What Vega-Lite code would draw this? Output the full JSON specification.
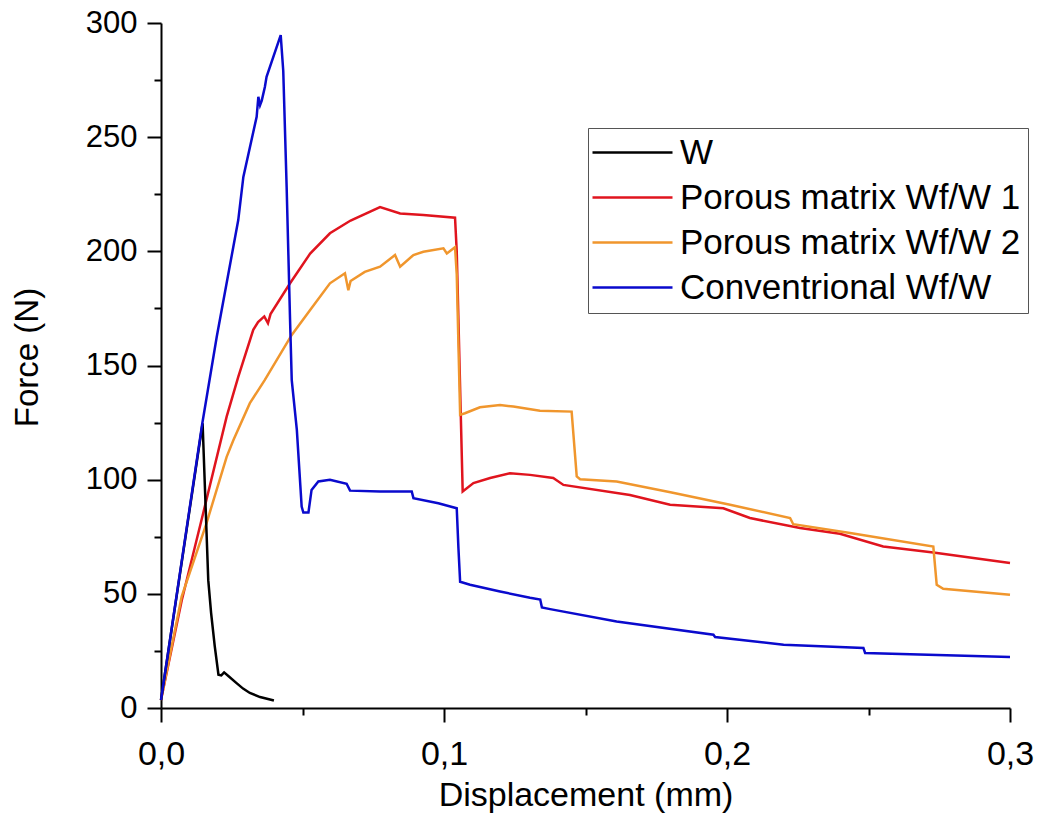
{
  "$schema": "https://vega.github.io/schema/vega-lite/v6.json",
  "width": 849,
  "height": 685,
  "autosize": {"type": "none"},
  "padding": {"left": 161, "top": 23, "right": 30, "bottom": 118},
  "background": "white",
  "config": {
    "view": {"stroke": null},
    "font": "Liberation Sans",
    "axis": {"grid": false, "domainColor": "black", "domainWidth": 2, "tickColor": "black", "tickWidth": 2, "labelColor": "black", "titleColor": "black", "labelFont": "Liberation Sans", "titleFont": "Liberation Sans", "titleFontWeight": "normal", "labelOverlap": false, "labelFlush": false}
  },
  "datasets": {
    "curves": [
      {"s": "W", "d": 0, "f": 3.5},
      {"s": "W", "d": 0.0147, "f": 124.7},
      {"s": "W", "d": 0.0167, "f": 56},
      {"s": "W", "d": 0.0177, "f": 41.7},
      {"s": "W", "d": 0.019, "f": 27},
      {"s": "W", "d": 0.0203, "f": 14.6},
      {"s": "W", "d": 0.0213, "f": 14.3},
      {"s": "W", "d": 0.0223, "f": 15.6},
      {"s": "W", "d": 0.024, "f": 13.8},
      {"s": "W", "d": 0.0267, "f": 10.9},
      {"s": "W", "d": 0.029, "f": 8.5},
      {"s": "W", "d": 0.0314, "f": 6.6},
      {"s": "W", "d": 0.035, "f": 4.8},
      {"s": "W", "d": 0.0399, "f": 3.3},

      {"s": "Porous matrix Wf/W 1", "d": 0, "f": 3.5},
      {"s": "Porous matrix Wf/W 1", "d": 0.0073, "f": 47},
      {"s": "Porous matrix Wf/W 1", "d": 0.0149, "f": 85.3},
      {"s": "Porous matrix Wf/W 1", "d": 0.0232, "f": 127.6},
      {"s": "Porous matrix Wf/W 1", "d": 0.0273, "f": 145},
      {"s": "Porous matrix Wf/W 1", "d": 0.0326, "f": 165.6},
      {"s": "Porous matrix Wf/W 1", "d": 0.0343, "f": 169},
      {"s": "Porous matrix Wf/W 1", "d": 0.0365, "f": 171.5},
      {"s": "Porous matrix Wf/W 1", "d": 0.0378, "f": 168.5},
      {"s": "Porous matrix Wf/W 1", "d": 0.0387, "f": 172.5},
      {"s": "Porous matrix Wf/W 1", "d": 0.0456, "f": 186},
      {"s": "Porous matrix Wf/W 1", "d": 0.0527, "f": 199},
      {"s": "Porous matrix Wf/W 1", "d": 0.0597, "f": 207.9},
      {"s": "Porous matrix Wf/W 1", "d": 0.067, "f": 213.5},
      {"s": "Porous matrix Wf/W 1", "d": 0.0774, "f": 219.4},
      {"s": "Porous matrix Wf/W 1", "d": 0.0845, "f": 216.6},
      {"s": "Porous matrix Wf/W 1", "d": 0.0927, "f": 215.9},
      {"s": "Porous matrix Wf/W 1", "d": 0.1039, "f": 214.7},
      {"s": "Porous matrix Wf/W 1", "d": 0.1045, "f": 200},
      {"s": "Porous matrix Wf/W 1", "d": 0.1066, "f": 94.8},
      {"s": "Porous matrix Wf/W 1", "d": 0.1104, "f": 98.5},
      {"s": "Porous matrix Wf/W 1", "d": 0.1163, "f": 100.7},
      {"s": "Porous matrix Wf/W 1", "d": 0.1233, "f": 102.8},
      {"s": "Porous matrix Wf/W 1", "d": 0.1304, "f": 102.1},
      {"s": "Porous matrix Wf/W 1", "d": 0.1386, "f": 100.7},
      {"s": "Porous matrix Wf/W 1", "d": 0.1422, "f": 97.7},
      {"s": "Porous matrix Wf/W 1", "d": 0.1657, "f": 93.3},
      {"s": "Porous matrix Wf/W 1", "d": 0.1799, "f": 89},
      {"s": "Porous matrix Wf/W 1", "d": 0.1987, "f": 87.5},
      {"s": "Porous matrix Wf/W 1", "d": 0.2081, "f": 83.2},
      {"s": "Porous matrix Wf/W 1", "d": 0.2258, "f": 78.8},
      {"s": "Porous matrix Wf/W 1", "d": 0.2399, "f": 76.3},
      {"s": "Porous matrix Wf/W 1", "d": 0.2552, "f": 70.7},
      {"s": "Porous matrix Wf/W 1", "d": 0.2729, "f": 68.1},
      {"s": "Porous matrix Wf/W 1", "d": 0.3, "f": 63.5},

      {"s": "Porous matrix Wf/W 2", "d": 0, "f": 3.5},
      {"s": "Porous matrix Wf/W 2", "d": 0.0073, "f": 48.8},
      {"s": "Porous matrix Wf/W 2", "d": 0.0161, "f": 81},
      {"s": "Porous matrix Wf/W 2", "d": 0.0232, "f": 110},
      {"s": "Porous matrix Wf/W 2", "d": 0.0256, "f": 117.4},
      {"s": "Porous matrix Wf/W 2", "d": 0.0314, "f": 133.5},
      {"s": "Porous matrix Wf/W 2", "d": 0.0367, "f": 143.7},
      {"s": "Porous matrix Wf/W 2", "d": 0.0462, "f": 163.4},
      {"s": "Porous matrix Wf/W 2", "d": 0.0527, "f": 174.3},
      {"s": "Porous matrix Wf/W 2", "d": 0.0597, "f": 186},
      {"s": "Porous matrix Wf/W 2", "d": 0.065, "f": 190.4},
      {"s": "Porous matrix Wf/W 2", "d": 0.0662, "f": 183},
      {"s": "Porous matrix Wf/W 2", "d": 0.067, "f": 187},
      {"s": "Porous matrix Wf/W 2", "d": 0.072, "f": 191},
      {"s": "Porous matrix Wf/W 2", "d": 0.0774, "f": 193.3},
      {"s": "Porous matrix Wf/W 2", "d": 0.0827, "f": 198.4},
      {"s": "Porous matrix Wf/W 2", "d": 0.0845, "f": 193.3},
      {"s": "Porous matrix Wf/W 2", "d": 0.0892, "f": 198.4},
      {"s": "Porous matrix Wf/W 2", "d": 0.0927, "f": 199.8},
      {"s": "Porous matrix Wf/W 2", "d": 0.0998, "f": 201.3},
      {"s": "Porous matrix Wf/W 2", "d": 0.101, "f": 199.1},
      {"s": "Porous matrix Wf/W 2", "d": 0.1039, "f": 201.8},
      {"s": "Porous matrix Wf/W 2", "d": 0.1045, "f": 190},
      {"s": "Porous matrix Wf/W 2", "d": 0.1057, "f": 128.4},
      {"s": "Porous matrix Wf/W 2", "d": 0.1074, "f": 129.1},
      {"s": "Porous matrix Wf/W 2", "d": 0.1127, "f": 131.7},
      {"s": "Porous matrix Wf/W 2", "d": 0.1198, "f": 132.7},
      {"s": "Porous matrix Wf/W 2", "d": 0.1245, "f": 132},
      {"s": "Porous matrix Wf/W 2", "d": 0.1339, "f": 130.2},
      {"s": "Porous matrix Wf/W 2", "d": 0.1451, "f": 129.8},
      {"s": "Porous matrix Wf/W 2", "d": 0.1469, "f": 101.4},
      {"s": "Porous matrix Wf/W 2", "d": 0.1481, "f": 100.2},
      {"s": "Porous matrix Wf/W 2", "d": 0.161, "f": 99.2},
      {"s": "Porous matrix Wf/W 2", "d": 0.18, "f": 94.5},
      {"s": "Porous matrix Wf/W 2", "d": 0.2011, "f": 89},
      {"s": "Porous matrix Wf/W 2", "d": 0.2223, "f": 83.2},
      {"s": "Porous matrix Wf/W 2", "d": 0.2234, "f": 80.5},
      {"s": "Porous matrix Wf/W 2", "d": 0.2435, "f": 76.6},
      {"s": "Porous matrix Wf/W 2", "d": 0.2729, "f": 70.7},
      {"s": "Porous matrix Wf/W 2", "d": 0.2741, "f": 54},
      {"s": "Porous matrix Wf/W 2", "d": 0.2764, "f": 52.2},
      {"s": "Porous matrix Wf/W 2", "d": 0.3, "f": 49.6},

      {"s": "Conventrional Wf/W", "d": 0, "f": 3.5},
      {"s": "Conventrional Wf/W", "d": 0.0146, "f": 124.7},
      {"s": "Conventrional Wf/W", "d": 0.0197, "f": 162.6},
      {"s": "Conventrional Wf/W", "d": 0.0273, "f": 213.7},
      {"s": "Conventrional Wf/W", "d": 0.0291, "f": 232.6},
      {"s": "Conventrional Wf/W", "d": 0.0338, "f": 258.9},
      {"s": "Conventrional Wf/W", "d": 0.0344, "f": 267.7},
      {"s": "Conventrional Wf/W", "d": 0.035, "f": 264},
      {"s": "Conventrional Wf/W", "d": 0.0356, "f": 266},
      {"s": "Conventrional Wf/W", "d": 0.0367, "f": 272},
      {"s": "Conventrional Wf/W", "d": 0.0373, "f": 276.4},
      {"s": "Conventrional Wf/W", "d": 0.0423, "f": 294.7},
      {"s": "Conventrional Wf/W", "d": 0.0432, "f": 279},
      {"s": "Conventrional Wf/W", "d": 0.0444, "f": 228},
      {"s": "Conventrional Wf/W", "d": 0.0456, "f": 170},
      {"s": "Conventrional Wf/W", "d": 0.0462, "f": 143.6},
      {"s": "Conventrional Wf/W", "d": 0.048, "f": 121.8},
      {"s": "Conventrional Wf/W", "d": 0.0497, "f": 88.2},
      {"s": "Conventrional Wf/W", "d": 0.0503, "f": 85.6},
      {"s": "Conventrional Wf/W", "d": 0.0521, "f": 85.6},
      {"s": "Conventrional Wf/W", "d": 0.0532, "f": 95.5},
      {"s": "Conventrional Wf/W", "d": 0.0556, "f": 99.2},
      {"s": "Conventrional Wf/W", "d": 0.0597, "f": 100},
      {"s": "Conventrional Wf/W", "d": 0.0656, "f": 98.2},
      {"s": "Conventrional Wf/W", "d": 0.0668, "f": 95.2},
      {"s": "Conventrional Wf/W", "d": 0.0774, "f": 94.8},
      {"s": "Conventrional Wf/W", "d": 0.0886, "f": 94.8},
      {"s": "Conventrional Wf/W", "d": 0.0892, "f": 91.9},
      {"s": "Conventrional Wf/W", "d": 0.098, "f": 89.7},
      {"s": "Conventrional Wf/W", "d": 0.1045, "f": 87.5},
      {"s": "Conventrional Wf/W", "d": 0.1051, "f": 70},
      {"s": "Conventrional Wf/W", "d": 0.1057, "f": 55.3},
      {"s": "Conventrional Wf/W", "d": 0.1092, "f": 54},
      {"s": "Conventrional Wf/W", "d": 0.1198, "f": 51},
      {"s": "Conventrional Wf/W", "d": 0.1304, "f": 48.3},
      {"s": "Conventrional Wf/W", "d": 0.134, "f": 47.5},
      {"s": "Conventrional Wf/W", "d": 0.1346, "f": 44},
      {"s": "Conventrional Wf/W", "d": 0.1375, "f": 43.3},
      {"s": "Conventrional Wf/W", "d": 0.161, "f": 37.9},
      {"s": "Conventrional Wf/W", "d": 0.1952, "f": 32.1},
      {"s": "Conventrional Wf/W", "d": 0.1958, "f": 31.1},
      {"s": "Conventrional Wf/W", "d": 0.22, "f": 27.7},
      {"s": "Conventrional Wf/W", "d": 0.2482, "f": 26.3},
      {"s": "Conventrional Wf/W", "d": 0.2488, "f": 24.1},
      {"s": "Conventrional Wf/W", "d": 0.3, "f": 22.3}
    ]
  },
  "data": {"name": "curves"},
  "encoding": {
    "x": {
      "field": "d", "type": "quantitative",
      "scale": {"domain": [0, 0.3], "nice": false, "zero": false},
      "axis": {
        "values": [0, 0.05, 0.1, 0.15, 0.2, 0.25, 0.3],
        "labelExpr": "abs(datum.value*10-round(datum.value*10))<1e-6 ? replace(format(datum.value,'.1f'),'.',',') : ''",
        "tickSize": {"condition": {"test": "abs(datum.value*10-round(datum.value*10))<1e-6", "value": 14}, "value": 7},
        "labelFontSize": 34,
        "labelPadding": 15,
        "title": "Displacement (mm)",
        "titleFontSize": 34,
        "titleBaseline": "alphabetic",
        "titleY": 97
      }
    },
    "y": {
      "field": "f", "type": "quantitative",
      "scale": {"domain": [0, 300], "nice": false},
      "axis": {
        "values": [0, 25, 50, 75, 100, 125, 150, 175, 200, 225, 250, 275, 300],
        "labelExpr": "datum.value % 50 === 0 ? datum.label : ''",
        "tickSize": {"condition": {"test": "datum.value % 50 === 0", "value": 14}, "value": 7},
        "labelFontSize": 31,
        "labelPadding": 10,
        "title": "Force (N)",
        "titleFontSize": 33,
        "titleBaseline": "alphabetic",
        "titleAngle": -90,
        "titleX": -124,
        "titleY": 334
      }
    },
    "color": {
      "field": "s", "type": "nominal",
      "scale": {
        "domain": ["W", "Porous matrix Wf/W 1", "Porous matrix Wf/W 2", "Conventrional Wf/W"],
        "range": ["#000000", "#E0141E", "#F0962D", "#0A0ACD"]
      },
      "legend": {
        "orient": "none",
        "legendX": 427,
        "legendY": 105,
        "title": null,
        "symbolType": "M-4,0L4,0",
        "symbolSize": 400,
        "symbolStrokeWidth": 2.5,
        "symbolOffset": 20,
        "labelOffset": 30,
        "labelFontSize": 35,
        "labelFont": "Liberation Sans",
        "labelColor": "black",
        "labelLimit": 600,
        "rowPadding": 9,
        "padding": 7,
        "strokeColor": "#555555"
      }
    }
  },
  "layer": [
    {"transform": [{"filter": "datum.s === 'Porous matrix Wf/W 1'"}], "mark": {"type": "line", "strokeWidth": 2.5}},
    {"transform": [{"filter": "datum.s === 'Porous matrix Wf/W 2'"}], "mark": {"type": "line", "strokeWidth": 2.5}},
    {"transform": [{"filter": "datum.s === 'W'"}], "mark": {"type": "line", "strokeWidth": 2.5}},
    {"transform": [{"filter": "datum.s === 'Conventrional Wf/W'"}], "mark": {"type": "line", "strokeWidth": 2.5}}
  ]
}
